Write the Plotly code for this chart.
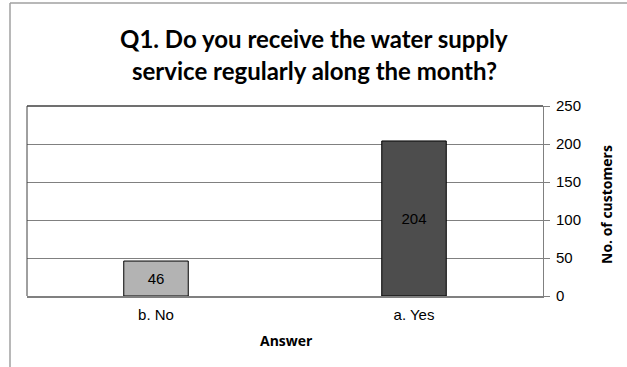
import plotly.graph_objects as go

categories = ["b. No", "a. Yes"]
values = [46, 204]
bar_colors = ["#b3b3b3", "#4d4d4d"]
y_ticks = [0, 50, 100, 150, 200, 250]

W, H = 627, 367
L, R, T, B = 27, 84, 106, 71
pw, ph = W - L - R, H - T - B

def px_x(px):
    return (px - L) / pw

def px_y(py):
    return (H - B - py) / ph

TITLE_FONT = "Lato, Open Sans"
AXIS_TITLE_FONT = "Open Sans, Lato"
TICK_FONT = "Liberation Sans, Arial"

fig = go.Figure()
fig.add_trace(go.Bar(
    x=categories, y=values,
    marker=dict(color=bar_colors, line=dict(color="#000000", width=1)),
    text=[str(v) for v in values], textposition="inside", insidetextanchor="middle",
    textfont=dict(family=TICK_FONT, size=15, color="#000000"),
    width=0.25,
))

fig.update_layout(
    width=W, height=H,
    margin=dict(l=L, r=R, t=T, b=B, autoexpand=False),
    paper_bgcolor="white", plot_bgcolor="white",
    showlegend=False,
    xaxis=dict(
        automargin=False,
        showline=True, linecolor="#808080", linewidth=1.5,
        ticks="", showgrid=False,
        ticklabelstandoff=4,
        tickfont=dict(family=TICK_FONT, size=15, color="#000000"),
    ),
    yaxis=dict(
        automargin=False,
        side="right", range=[0, 250], tickvals=y_ticks,
        showline=True, linecolor="#808080", linewidth=1,
        ticks="outside", ticklen=6, tickcolor="#808080",
        ticklabelstandoff=3,
        showgrid=True, gridcolor="#808080", gridwidth=1,
        zeroline=False,
        tickfont=dict(family=TICK_FONT, size=15, color="#000000"),
    ),
)

# title (two lines)
fig.add_annotation(text="Q1. Do you receive the water supply", xref="paper", yref="paper",
                   x=px_x(314), y=px_y(38), xanchor="center", yanchor="middle", showarrow=False,
                   font=dict(family=TITLE_FONT, size=24, color="#000000", weight="bold"))
fig.add_annotation(text="service regularly along the month?", xref="paper", yref="paper",
                   x=px_x(314), y=px_y(70), xanchor="center", yanchor="middle", showarrow=False,
                   font=dict(family=TITLE_FONT, size=24, color="#000000", weight="bold"))
# axis titles
fig.add_annotation(text="<b>Answer</b>", xref="paper", yref="paper",
                   x=px_x(286), y=px_y(340), xanchor="center", yanchor="middle", showarrow=False,
                   font=dict(family=AXIS_TITLE_FONT, size=14, color="#000000"))
fig.add_annotation(text="<b>No. of customers</b>", xref="paper", yref="paper",
                   x=px_x(606), y=px_y(205), xanchor="center", yanchor="middle", showarrow=False,
                   textangle=-90,
                   font=dict(family=AXIS_TITLE_FONT, size=14, color="#000000"))

# plot area left and top borders
fig.add_shape(type="line", xref="paper", yref="paper", x0=0, x1=0, y0=0, y1=1,
              line=dict(color="#404040", width=1))
fig.add_shape(type="line", xref="paper", yref="paper", x0=0, x1=1, y0=1, y1=1,
              line=dict(color="#404040", width=1.5))
# outer chart frame
fig.add_shape(type="line", xref="paper", yref="paper", x0=px_x(10), x1=px_x(10), y0=px_y(3), y1=px_y(370),
              line=dict(color="#a0a0a0", width=1.5))
fig.add_shape(type="line", xref="paper", yref="paper", x0=px_x(10), x1=px_x(640), y0=px_y(3), y1=px_y(3),
              line=dict(color="#a0a0a0", width=1.5))

fig.write_html("out.html", config={"displayModeBar": False},
               post_script="document.body.style.margin='0px';document.body.style.overflow='hidden';")
